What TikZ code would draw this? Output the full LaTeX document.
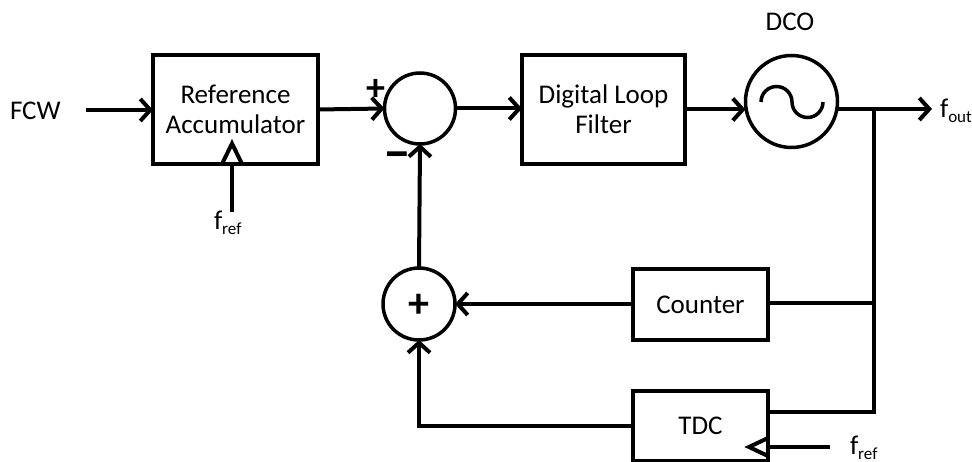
\documentclass[tikz,border=0pt]{standalone}
\usepackage{fontspec}
\setmainfont{Carlito}
\usetikzlibrary{arrows.meta}
% f with a lowered, smaller subscript
\newcommand{\fsig}[1]{f\raisebox{-5pt}{\fontsize{17}{17}\selectfont #1}}
\begin{document}
\begin{tikzpicture}[x=1pt,y=-1pt,line width=4pt,
  every node/.style={font=\fontsize{27}{32}\selectfont, inner sep=0pt, outer sep=0pt},
  blk/.style={draw, rectangle, align=center, line width=4pt},
  sumnode/.style={draw, circle, line width=3.5pt},
  sig/.style={-{Straight Barb[length=10pt,width=22pt]}, line width=4pt},
  wire/.style={line width=4pt},
  clk/.style={line width=4pt, line join=miter}]
  \useasboundingbox (0,0) rectangle (972,462);

  % blocks of the forward path
  \node[blk, minimum width=165pt, minimum height=109pt] (acc) at (235.5,109.5)
    {Reference\\[-2pt]Accumulator};
  \node[sumnode, minimum size=71pt] (sum1) at (420,108.5) {};
  \node[blk, minimum width=163pt, minimum height=109pt] (dlf) at (603.5,109.5)
    {Digital Loop\\[-2pt]Filter};
  \node[sumnode, minimum size=92pt] (dco) at (791.5,101.5) {};

  % blocks of the feedback path
  \node[blk, minimum width=135pt, minimum height=71pt] (cnt) at (700.5,304.5) {Counter};
  \node[blk, minimum width=135pt, minimum height=70pt] (tdc) at (700.5,426) {TDC};
  \node[sumnode, minimum size=72pt] (sum2) at (419,304) {};

  % labels
  \node[anchor=base west] (fcw) at (10,120) {FCW};
  \node[anchor=base] (dcolbl) at (790,31) {DCO};
  \node[anchor=base west] (fout) at (940,118) {\fsig{out}};
  \node[anchor=base west] (fref1) at (214,230) {\fsig{ref}};
  \node[anchor=base west] (fref2) at (850,454) {\fsig{ref}};
  \node (plus1) at (376,89.5) {\fontsize{38}{38}\selectfont\textbf{+}};
  \node (minus1) at (397,161) {\fontsize{36}{36}\selectfont\scalebox{1.55}[1.5]{\textbf{–}}};
  \node (plus2) at (419,306) {\fontsize{42}{42}\selectfont\textbf{+}};

  % sine wave inside the oscillator
  \draw[wire, line width=3.5pt] (761,102) arc[start angle=180,end angle=360,radius=15.5]
                        arc[start angle=180,end angle=0,radius=15.5];

  % connection points
  \coordinate (fcwin) at (86,110);
  \coordinate (outend) at (932,109);
  \coordinate (j1) at (874,109);
  \coordinate (j2) at (874,303);
  \coordinate (j3) at (874,412);
  \coordinate (tdcin) at (768,412);
  \coordinate (bend) at (419,426);
  \coordinate (frefa) at (232,212);
  \coordinate (frefb) at (830,447);

  % forward path
  \draw[sig] (fcwin) -- (acc.west |- fcwin);
  \draw[sig] (acc.east) -- (sum1.west);
  \draw[sig] (sum1.east) -- (dlf.west |- sum1.east);
  \draw[sig] (dlf.east) -- (dlf.east -| dco.west);
  \draw[sig] (dco.east |- j1) -- (outend);

  % feedback path
  \draw[wire] (j1) -- (j3) -- (tdcin);
  \draw[sig] (j2) -- (cnt.east |- j2) (cnt.west |- sum2.east) -- (sum2.east);
  \draw[sig] (tdc.west |- bend) -- (bend) -- (sum2.south);
  \draw[sig] (sum2.north) -- (sum1.south);

  % reference clock inputs with clock triangles
  \draw[wire] (frefa) -- (frefa |- acc.south);
  \draw[clk] (222.5,163) -- (232,143.5) -- (241.5,163);
  \draw[wire] (frefb) -- (frefb -| tdc.east);
  \draw[clk] (768,438) -- (749,447) -- (768,456);
\end{tikzpicture}
\end{document}
